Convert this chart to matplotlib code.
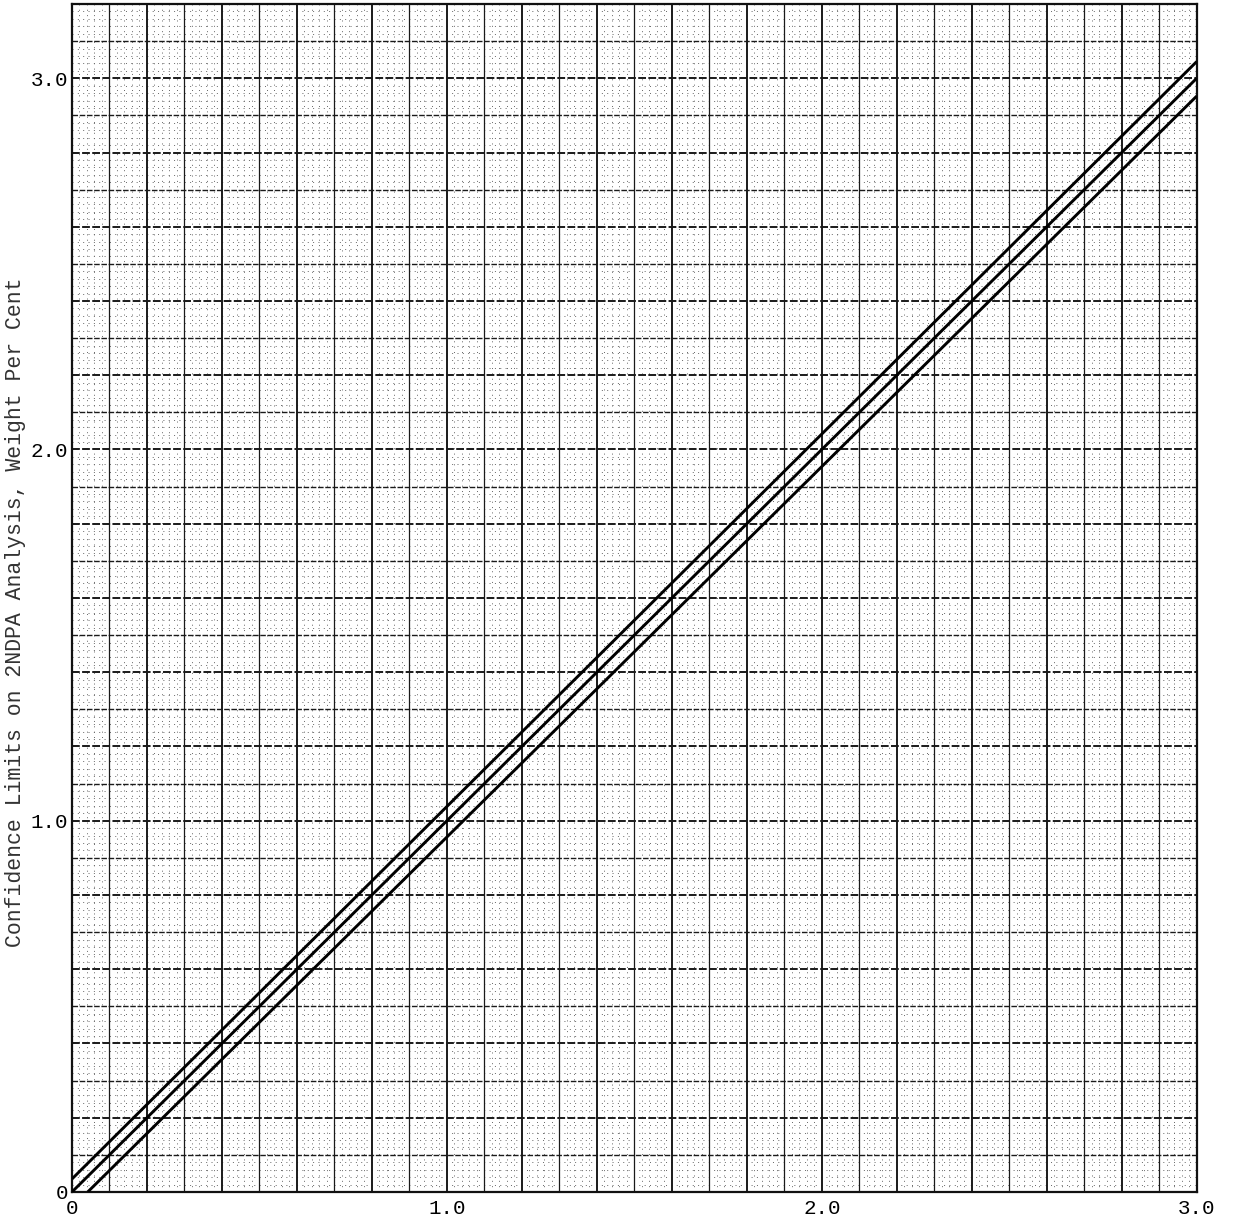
import numpy as np
import matplotlib
matplotlib.use("Agg")
import matplotlib.pyplot as plt

# ---- data ----
x_vals = [0.0, 3.0]
middle_y = [0.0, 3.0]
upper_y = [0.035, 3.045]
lower_x = [0.042, 3.0]
lower_y = [0.0, 2.952]

x_ticks = [0.0, 1.0, 2.0, 3.0]
x_tick_labels = ["0", "1.0", "2.0", "3.0"]
y_ticks = [0.0, 1.0, 2.0, 3.0]
y_tick_labels = ["0", "1.0", "2.0", "3.0"]
y_label = "Confidence Limits on 2NDPA Analysis, Weight Per Cent"

plt.rcParams['font.family'] = ['Liberation Mono', 'DejaVu Sans Mono']

fig = plt.figure(figsize=(12.35, 12.2), dpi=100)
ax = fig.add_axes([0.0583, 0.023, 0.9107, 0.9737])
ax.set_xlim(0, 3.0)
ax.set_ylim(0, 3.2)

# fine dotted grid every 0.02
for v in np.arange(0.02, 3.0, 0.02):
    if abs(v * 10 - round(v * 10)) > 1e-6:
        ax.axvline(v, color="#666666", lw=0.7, ls=(0, (1, 4.5)), zorder=1)
for v in np.arange(0.02, 3.2, 0.02):
    if abs(v * 10 - round(v * 10)) > 1e-6:
        ax.axhline(v, color="#666666", lw=0.7, ls=(0, (1, 4.5)), zorder=1)

# 0.1 grid lines
for i in range(1, 30):
    v = i / 10
    heavy = (i % 2 == 0)
    ax.axvline(v, color="#1a1a1a", lw=1.4 if heavy else 0.9, zorder=2)
for i in range(1, 32):
    v = i / 10
    heavy = (i % 2 == 0)
    ax.axhline(v, color="#1a1a1a", lw=1.4 if heavy else 1.0,
               ls=(0, (4, 1.2)), zorder=2)

# data lines
ax.plot(x_vals, upper_y, color="black", lw=2.1, zorder=5, solid_capstyle="butt")
ax.plot(x_vals, middle_y, color="black", lw=2.1, zorder=5, solid_capstyle="butt")
ax.plot(lower_x, lower_y, color="black", lw=2.1, zorder=5, solid_capstyle="butt")

ax.set_xticks(x_ticks)
ax.set_xticklabels(x_tick_labels, fontsize=15)
ax.set_yticks(y_ticks)
ax.set_yticklabels(y_tick_labels, fontsize=15)
ax.tick_params(axis="x", length=0, pad=5)
ax.tick_params(axis="y", length=0, pad=3)
ax.grid(False)

for s in ax.spines.values():
    s.set_linewidth(1.6)
    s.set_color("#111111")

ax.set_ylabel(y_label, fontsize=15.5, color="#333333")
ax.yaxis.set_label_coords(-0.0405, 0.488)

fig.savefig("out.png", dpi=100)
